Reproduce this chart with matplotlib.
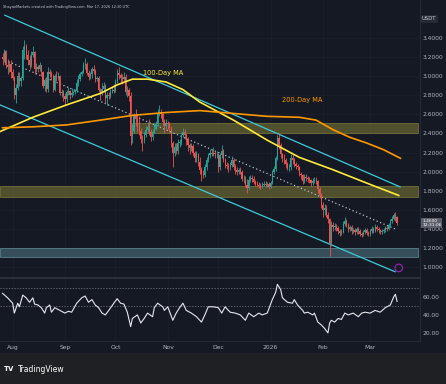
import matplotlib.pyplot as plt
import numpy as np
from matplotlib.patches import Rectangle

# day offsets are counted from 1 Aug 2025 (0 = Aug 1)
first_day = -6  # 26 Jul 2025
first_open = 3.20

close_jul = [3.18, 3.26, 3.12, 3.10, 3.13, 3.04]
high_jul = [3.24, 3.29, 3.28, 3.18, 3.16, 3.17]
low_jul = [3.12, 3.15, 3.09, 3.02, 3.05, 2.98]

close_aug = [2.98, 2.80, 2.88, 3.00, 2.95, 2.98, 3.28, 3.32, 3.22, 3.17,
             3.12, 3.22, 3.25, 3.08, 3.10, 3.08, 3.12, 3.05, 2.90, 2.96,
             2.87, 3.05, 3.02, 3.00, 2.86, 3.00, 2.98, 3.00, 2.82, 2.83, 2.79]
high_aug = [3.08, 3.00, 2.92, 3.04, 3.05, 3.00, 3.32, 3.38, 3.34, 3.28,
            3.22, 3.27, 3.32, 3.26, 3.14, 3.12, 3.15, 3.12, 3.06, 2.98,
            2.98, 3.10, 3.08, 3.06, 3.02, 3.02, 3.06, 3.04, 3.01, 2.87, 2.86]
low_aug = [2.96, 2.76, 2.72, 2.86, 2.90, 2.90, 2.96, 3.18, 3.18, 3.12,
           3.08, 3.10, 3.20, 3.02, 3.04, 3.04, 3.06, 3.00, 2.88, 2.85,
           2.84, 2.84, 2.99, 2.96, 2.84, 2.85, 2.95, 2.96, 2.80, 2.78, 2.74]

close_sep = [2.76, 2.84, 2.85, 2.80, 2.82, 2.83, 2.85, 2.93, 2.97, 3.02,
             3.05, 3.12, 3.13, 3.03, 2.99, 3.02, 3.08, 3.06, 2.97, 2.98,
             2.86, 2.84, 2.87, 2.90, 2.77, 2.80, 2.79, 2.85, 2.86, 2.85]
high_sep = [2.82, 2.86, 2.89, 2.86, 2.88, 2.85, 2.87, 2.97, 3.01, 3.04,
            3.07, 3.15, 3.19, 3.15, 3.07, 3.05, 3.10, 3.12, 3.08, 3.00,
            3.00, 2.88, 2.93, 2.94, 2.92, 2.84, 2.84, 2.87, 2.90, 2.92]
low_sep = [2.70, 2.73, 2.80, 2.76, 2.78, 2.80, 2.81, 2.84, 2.90, 2.95,
           3.00, 3.03, 3.08, 3.01, 2.96, 2.97, 2.98, 3.02, 2.94, 2.95,
           2.84, 2.75, 2.80, 2.84, 2.72, 2.70, 2.76, 2.77, 2.82, 2.82]

close_oct = [2.95, 3.03, 3.01, 2.98, 2.97, 2.99, 2.83, 2.86, 2.79, 2.37,
             2.43, 2.58, 2.55, 2.52, 2.43, 2.34, 2.33, 2.38, 2.44, 2.47,
             2.42, 2.36, 2.42, 2.45, 2.50, 2.62, 2.63, 2.60, 2.52, 2.48, 2.51]
high_oct = [2.97, 3.08, 3.10, 3.03, 3.02, 3.05, 3.02, 2.90, 2.88, 2.84,
            2.50, 2.62, 2.66, 2.60, 2.58, 2.46, 2.38, 2.42, 2.48, 2.52,
            2.55, 2.45, 2.45, 2.50, 2.53, 2.66, 2.70, 2.66, 2.62, 2.55, 2.55]
low_oct = [2.84, 2.93, 2.97, 2.94, 2.92, 2.95, 2.80, 2.78, 2.74, 2.28,
           2.30, 2.40, 2.48, 2.42, 2.38, 2.30, 2.22, 2.30, 2.36, 2.42,
           2.38, 2.32, 2.33, 2.40, 2.44, 2.48, 2.58, 2.56, 2.48, 2.40, 2.45]

close_nov = [2.50, 2.46, 2.30, 2.20, 2.26, 2.22, 2.30, 2.30, 2.38, 2.42,
             2.38, 2.33, 2.28, 2.25, 2.27, 2.20, 2.14, 2.18, 2.10, 2.02,
             1.97, 1.96, 2.05, 2.12, 2.17, 2.20, 2.19, 2.20, 2.18, 2.18]
high_nov = [2.53, 2.52, 2.48, 2.32, 2.30, 2.30, 2.34, 2.34, 2.40, 2.46,
            2.45, 2.40, 2.36, 2.30, 2.30, 2.29, 2.22, 2.22, 2.20, 2.15,
            2.05, 2.02, 2.08, 2.15, 2.20, 2.24, 2.24, 2.26, 2.22, 2.22]
low_nov = [2.45, 2.42, 2.26, 2.05, 2.16, 2.18, 2.18, 2.26, 2.28, 2.36,
           2.34, 2.28, 2.22, 2.18, 2.22, 2.16, 2.10, 2.10, 2.06, 1.98,
           1.90, 1.93, 1.94, 2.02, 2.10, 2.14, 2.16, 2.16, 2.14, 2.14]

close_dec = [2.05, 2.17, 2.22, 2.12, 2.07, 2.06, 2.05, 2.07, 2.12, 2.05,
             2.02, 2.00, 2.02, 2.00, 1.92, 1.92, 1.86, 1.83, 1.91, 1.93,
             1.92, 1.89, 1.87, 1.86, 1.85, 1.84, 1.86, 1.87, 1.86, 1.87, 1.84]
high_dec = [2.20, 2.20, 2.28, 2.24, 2.14, 2.10, 2.09, 2.10, 2.16, 2.14,
            2.08, 2.05, 2.04, 2.05, 2.02, 1.96, 1.95, 1.92, 1.95, 1.96,
            1.96, 1.95, 1.91, 1.90, 1.89, 1.88, 1.89, 1.90, 1.90, 1.89, 1.89]
low_dec = [2.00, 2.02, 2.14, 2.10, 2.04, 2.03, 2.00, 2.02, 2.05, 2.02,
           1.98, 1.96, 1.98, 1.97, 1.90, 1.88, 1.84, 1.78, 1.81, 1.89,
           1.89, 1.87, 1.85, 1.84, 1.83, 1.82, 1.83, 1.85, 1.84, 1.84, 1.82]

close_jan = [1.88, 2.00, 2.03, 2.14, 2.35, 2.28, 2.18, 2.14, 2.12, 2.08,
             2.05, 2.05, 2.14, 2.12, 2.08, 2.06, 2.05, 1.98, 1.96, 1.90,
             1.94, 1.93, 1.92, 1.91, 1.88, 1.90, 1.91, 1.90, 1.82, 1.76, 1.65]
high_jan = [1.90, 2.02, 2.06, 2.16, 2.38, 2.41, 2.30, 2.20, 2.18, 2.14,
            2.10, 2.08, 2.18, 2.20, 2.14, 2.10, 2.08, 2.06, 2.00, 1.98,
            1.97, 1.97, 1.95, 1.94, 1.92, 1.93, 1.94, 1.94, 1.91, 1.84, 1.78]
low_jan = [1.83, 1.87, 1.97, 2.01, 2.12, 2.24, 2.14, 2.10, 2.08, 2.04,
           2.02, 2.01, 2.02, 2.08, 2.05, 2.03, 2.02, 1.95, 1.92, 1.87,
           1.88, 1.90, 1.89, 1.88, 1.85, 1.86, 1.88, 1.87, 1.78, 1.72, 1.62]

close_feb = [1.60, 1.62, 1.55, 1.50, 1.25, 1.44, 1.42, 1.43, 1.41, 1.38,
             1.36, 1.37, 1.45, 1.48, 1.44, 1.40, 1.42, 1.38, 1.39, 1.37,
             1.40, 1.38, 1.35, 1.34, 1.37, 1.39, 1.36, 1.35]
high_feb = [1.68, 1.66, 1.65, 1.58, 1.51, 1.48, 1.47, 1.46, 1.45, 1.43,
            1.40, 1.40, 1.48, 1.52, 1.50, 1.46, 1.44, 1.44, 1.41, 1.41,
            1.42, 1.42, 1.40, 1.37, 1.39, 1.41, 1.41, 1.38]
low_feb = [1.52, 1.55, 1.52, 1.46, 1.11, 1.22, 1.38, 1.39, 1.38, 1.35,
           1.33, 1.34, 1.36, 1.43, 1.42, 1.37, 1.38, 1.35, 1.36, 1.34,
           1.35, 1.35, 1.32, 1.31, 1.33, 1.35, 1.34, 1.33]

close_mar = [1.38, 1.40, 1.38, 1.42, 1.40, 1.39, 1.37, 1.38, 1.39, 1.41,
             1.40, 1.44, 1.48, 1.50, 1.54, 1.52, 1.46]
high_mar = [1.40, 1.43, 1.42, 1.45, 1.44, 1.42, 1.40, 1.40, 1.41, 1.43,
            1.43, 1.46, 1.50, 1.53, 1.57, 1.58, 1.53]
low_mar = [1.33, 1.36, 1.36, 1.37, 1.38, 1.36, 1.35, 1.35, 1.36, 1.37,
           1.38, 1.39, 1.43, 1.46, 1.49, 1.48, 1.44]

# moving averages (day, price)
ma100_days = [-7.5, 12, 32, 52, 62, 71, 80, 91, 101, 111, 131, 151, 170, 190, 210, 229]
ma100_vals = [2.42, 2.57, 2.70, 2.82, 2.91, 2.97, 2.97, 2.94, 2.86, 2.73,
              2.54, 2.33, 2.15, 2.02, 1.88, 1.75]
ma200_days = [-6, 12, 32, 52, 71, 91, 111, 131, 151, 170, 180, 190, 200, 210, 220, 230]
ma200_vals = [2.46, 2.47, 2.49, 2.54, 2.59, 2.62, 2.64, 2.61, 2.58, 2.57,
              2.54, 2.44, 2.36, 2.30, 2.23, 2.14]

# channel lines: (start day, start price, end day, end price)
channel_upper = (-4.6, 3.64, 229.8, 1.84)
channel_mid = (-4.6, 3.17, 228.0, 1.39)
channel_lower = (-7.5, 2.70, 226.8, 0.95)

# zones: (start day, low, high)
zones_yellow = [(70.8, 2.40, 2.51), (-7.5, 1.73, 1.85)]
zone_teal = (-7.5, 1.105, 1.20)

rsi_days = [-6, -3, 0, 1, 3, 4, 6, 8, 10, 12, 13, 15, 17, 19, 20, 22, 23, 25,
            28, 31, 33, 35, 38, 41, 43, 45, 47, 49, 51, 53, 55, 57, 60, 62, 64,
            66, 68, 70, 71, 74, 76, 78, 80, 83, 84, 86, 89, 90, 92, 95, 97, 99,
            101, 103, 106, 109, 112, 114, 116, 119, 122, 124, 126, 129, 132,
            135, 138, 140, 143, 146, 148, 151, 154, 156, 157, 159, 160, 163,
            166, 167, 169, 172, 173, 175, 178, 179, 181, 183, 185, 187, 188,
            189, 191, 193, 195, 197, 199, 202, 205, 207, 209, 212, 215, 218,
            221, 224, 226, 227, 228]
rsi_vals = [64, 59, 53, 42, 53, 49, 62, 59, 54, 59, 52, 51, 48, 42, 48, 51, 43, 48,
            45, 42, 44, 43, 53, 59, 61, 54, 57, 51, 48, 42, 40, 45, 53, 58, 53,
            52, 43, 27, 36, 40, 31, 36, 42, 38, 48, 53, 49, 45, 49, 34, 42, 48,
            53, 45, 42, 38, 32, 40, 49, 49, 48, 42, 49, 43, 42,
            40, 34, 42, 38, 42, 40, 42, 57, 65, 74, 68, 59, 54,
            53, 57, 51, 45, 42, 43, 40, 42, 32, 29, 25, 20, 31,
            34, 32, 36, 35, 42, 40, 42, 38, 42, 43, 42, 45, 43,
            48, 51, 60, 63, 55]

price_ticks = [1.0, 1.2, 1.4, 1.6, 1.8, 2.0, 2.2, 2.4, 2.6, 2.8, 3.0, 3.2, 3.4]
rsi_ticks = [20, 40, 60]
month_days = [0, 31, 61, 92, 122, 153, 184, 212]
month_labels = ["Aug", "Sep", "Oct", "Nov", "Dec", "2026", "Feb", "Mar"]

BG = "#151924"
TXT = "#b2b5be"
GRID = "#1c2030"
SEP = "#2a2e39"
UP = "#26a69a"
DOWN = "#ef5350"

closes = np.array(close_jul + close_aug + close_sep + close_oct + close_nov
                  + close_dec + close_jan + close_feb + close_mar)
highs = np.array(high_jul + high_aug + high_sep + high_oct + high_nov
                 + high_dec + high_jan + high_feb + high_mar)
lows = np.array(low_jul + low_aug + low_sep + low_oct + low_nov
                + low_dec + low_jan + low_feb + low_mar)
days = np.arange(first_day, first_day + len(closes))
opens = np.concatenate([[first_open], closes[:-1]])
highs = np.maximum(highs, np.maximum(opens, closes))
lows = np.minimum(lows, np.minimum(opens, closes))

W, H = 446, 384
fig = plt.figure(figsize=(W / 100, H / 100), dpi=100)
fig.patch.set_facecolor(BG)
fig.add_artist(Rectangle((0, 0), 1, 31 / H, transform=fig.transFigure,
                         facecolor="#1f2024", edgecolor="none", zorder=0))

ax = fig.add_axes([0, 107 / H, 420 / W, 277 / H])
rax = fig.add_axes([0, 43 / H, 420 / W, 63 / H])
xlim = (-7.5, 241.6)

for a in (ax, rax):
    a.set_facecolor(BG)
    a.set_xlim(*xlim)
    for s in a.spines.values():
        s.set_visible(False)
    a.spines["right"].set_visible(True)
    a.spines["right"].set_color(SEP)
    a.spines["right"].set_linewidth(0.6)
    a.yaxis.tick_right()
    a.tick_params(axis="y", length=0, pad=2, labelsize=4.3, labelcolor=TXT)
    a.set_xticks(month_days)
    for d in month_days:
        a.axvline(d, color=GRID, lw=0.5, zorder=0)

ax.spines["bottom"].set_visible(True)
ax.spines["bottom"].set_color(SEP)
ax.spines["bottom"].set_linewidth(0.8)
ax.tick_params(axis="x", length=0, labelbottom=False)

# main pane
ax.set_ylim(0.895, 3.80)
ax.set_yticks(price_ticks)
ax.set_yticklabels([f"{t:.4f}" for t in price_ticks])
for t in price_ticks:
    ax.axhline(t, color=GRID, lw=0.5, zorder=0)

for start, lo, hi in zones_yellow:
    ax.add_patch(Rectangle((start, lo), xlim[1] - start - 1.2, hi - lo,
                           facecolor="#5c5a30", edgecolor="#8a8740",
                           lw=0.5, alpha=0.85, zorder=1))
start, lo, hi = zone_teal
ax.add_patch(Rectangle((start, lo), xlim[1] - start - 1.2, hi - lo,
                       facecolor="#3b5661", edgecolor="#6a9aa6",
                       lw=0.5, alpha=0.9, zorder=1))

for line, style, col in [(channel_upper, "-", "#3fcbd9"),
                         (channel_lower, "-", "#3fcbd9"),
                         (channel_mid, (0, (1, 2)), "#b8c0d0")]:
    d0, p0, d1, p1 = line
    ax.plot([d0, d1], [p0, p1], color=col, lw=0.9, ls=style, zorder=2)

up = closes >= opens
cols = np.where(up, UP, DOWN)
body_lo = np.minimum(opens, closes)
body_h = np.maximum(np.abs(closes - opens), 0.006)
ax.vlines(days, lows, highs, colors=cols, lw=0.6, zorder=3)
ax.bar(days, body_h, bottom=body_lo, width=0.7, color=cols, lw=0, zorder=3)

ax.plot(ma100_days, ma100_vals, color="#ffeb3b", lw=1.2, zorder=4)
ax.plot(ma200_days, ma200_vals, color="#ff9800", lw=1.2, zorder=4)
ax.text(89, 3.03, "100-Day MA", color="#ffeb3b", fontsize=4.8, ha="center",
        va="center", zorder=5)
ax.text(172, 2.75, "200-Day MA", color="#ff9800", fontsize=4.8, ha="center",
        va="center", zorder=5)

ax.scatter([229], [0.99], s=30, facecolors="none", edgecolors="#9c27b0",
           lw=0.8, zorder=5, clip_on=False)

ax.annotate(f"{closes[-1]:.4f}\n12:31:06", xy=(1.0, closes[-1]),
            xycoords=("axes fraction", "data"), xytext=(1.5, 0),
            textcoords="offset points", ha="left", va="center",
            fontsize=3.2, color="white", linespacing=1.1,
            bbox=dict(boxstyle="square,pad=0.2", fc="#5d606b", ec="none"),
            annotation_clip=False, zorder=6)

# RSI pane
rax.spines["top"].set_visible(True)
rax.spines["top"].set_color(SEP)
rax.spines["bottom"].set_visible(True)
rax.spines["bottom"].set_color(SEP)
rax.spines["bottom"].set_linewidth(0.6)
rax.set_ylim(11, 81)
rax.set_yticks(rsi_ticks)
rax.set_yticklabels([f"{t:.2f}" for t in rsi_ticks])
rax.axhline(70, color="#787b86", lw=0.5, ls=(0, (2, 2)))
rax.axhline(50, color="#787b86", lw=0.5, ls=(0, (2, 2)))
rax.plot(rsi_days, rsi_vals, color="#e6e8ee", lw=0.8)
rax.set_xticklabels(month_labels)
rax.tick_params(axis="x", length=0, pad=3, labelsize=4.3, labelcolor=TXT)

# header, currency tag and logo
fig.text(3 / W, 1 - 7 / H,
         "ShayanMarkets created with TradingView.com, Mar 17, 2026 12:30 UTC",
         fontsize=2.5, color="#c8cbd3", ha="left", va="center")
fig.text(429 / W, 1 - 19 / H, "USDT", fontsize=3.8, color="#d1d4dc",
         ha="center", va="center",
         bbox=dict(boxstyle="square,pad=0.3", fc="#262a35", ec="none"))
fig.text(4 / W, 15 / H, "TV", fontsize=5, color="white", weight="heavy",
         ha="left", va="center")
fig.text(17.5 / W, 15 / H, "TradingView", fontsize=5.5, color="white",
         ha="left", va="center")

fig.savefig("out.png", dpi=100, facecolor=fig.get_facecolor())
